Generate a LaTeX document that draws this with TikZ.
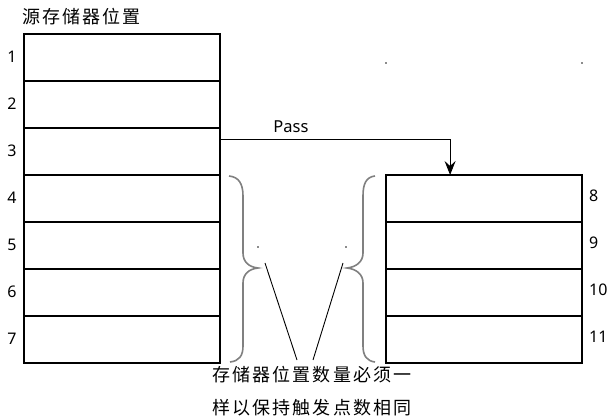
\documentclass[tikz,border=0pt]{standalone}
\usepackage{fontspec}
\setmainfont{Noto Sans}
\newfontfamily\cjk{Noto Sans CJK SC}[LetterSpace=12]
\usetikzlibrary{arrows.meta,calc}
\begin{document}
\begin{tikzpicture}[x=1pt,y=-1pt,
  cell/.style={draw=black,line width=1.7pt,minimum width=196pt,minimum height=47pt,inner sep=0pt,outer sep=0pt},
  num/.style={font=\fontsize{16}{18}\selectfont,inner sep=0pt},
  cjktxt/.style={font=\cjk\fontsize{18}{20}\selectfont,inner sep=0pt,anchor=west},
  brace/.style={draw=black!50,line width=1.6pt},
  thin/.style={draw=black,line width=0.9pt},
  dot/.style={fill=black!45}]
\path[use as bounding box,fill=white] (0,0) rectangle (613,419);
% left column
\foreach \i in {1,...,7}{
  \node[cell] (L\i) at (122,{57.5+47*(\i-1)}) {};
  \node[num] (nL\i) at (12,{57+47*(\i-1)}) {\i};
}
% right column
\foreach \i [count=\k from 0] in {8,...,11}{
  \node[cell] (R\i) at (484,{198.5+47*\k}) {};
  \node[num,anchor=west] (nR\i) at (589,{196+47*\k}) {\i};
}
% title
\node[cjktxt] (title) at (22,17) {源存储器位置};
% Pass arrow
\coordinate (pA) at ($(L3.north east)!0.25!(L3.south east)$);
\coordinate (pB) at ($(R8.north west)!0.327!(R8.north east)$);
\draw[line width=1pt,-{Stealth[length=14pt,width=11pt,inset=5pt]}] (pA) -| (pB);
\node[font=\fontsize{16.5}{18}\selectfont,inner sep=0pt] (pass) at (291,127) {Pass};
% braces
\draw[brace] (229,176) .. controls (239,177) and (243,184) .. (243,196) -- (243,253)
  .. controls (243,262) and (249,267) .. (258,268)
  .. controls (249,269) and (243,274) .. (243,283) -- (243,346)
  .. controls (243,356) and (239,361) .. (230,362);
\draw[brace] (375,176) .. controls (366,177) and (363,184) .. (363,196) -- (363,253)
  .. controls (363,262) and (356,267) .. (347,268)
  .. controls (356,269) and (363,274) .. (363,283) -- (363,346)
  .. controls (363,356) and (367,361) .. (375,362);
% pointer lines
\coordinate (a1) at (265,263); \coordinate (a2) at (297,360);
\coordinate (b1) at (343,263); \coordinate (b2) at (313,360);
\draw[thin] (a1) -- (a2);
\draw[thin] (b1) -- (b2);
% note text
\node[cjktxt] (note1) at (212,375) {存储器位置数量必须一};
\node[cjktxt] (note2) at (212,408) {样以保持触发点数相同};
% stray dots
\fill[dot] (257,246.5) rectangle (259,248.5);
\fill[dot] (345,246) rectangle (347,248);
\fill[dot] (385,62) rectangle (387,64);
\fill[dot] (581,62) rectangle (583,64);
\end{tikzpicture}
\end{document}
